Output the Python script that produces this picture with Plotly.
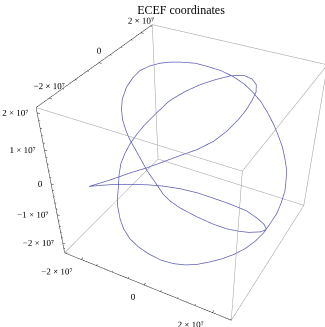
import plotly.graph_objects as go

# ECEF trajectory samples (metres)
x_m = [-1.90e7,-1.15e7,-6.7e6,-1.8e6,2.5e6,6.1e6,9.8e6,1.32e7,1.63e7,1.94e7,2.23e7,2.39e7,2.43e7,2.40e7,2.28e7,2.26e7,2.13e7,1.93e7,1.69e7,1.39e7,
       1.04e7,8.1e6,6.4e6,4.3e6,1.9e6,-2e5,-2.4e6,-4.4e6,-6.3e6,-8.3e6,-1.00e7,-1.14e7,-1.30e7,-1.41e7,-1.46e7,-1.37e7,-1.22e7,-1.03e7,-8.1e6,-4.4e6,
       -9e5,3.0e6,6.9e6,1.08e7,1.44e7,1.67e7,1.89e7,2.08e7,2.24e7,2.38e7,2.48e7,2.50e7,2.50e7,2.50e7,2.50e7,2.51e7,2.44e7,2.36e7,2.24e7,2.07e7,
       1.85e7,1.59e7,1.35e7,1.08e7,8.2e6,5.4e6,2.2e6,-1.2e6,-2.7e6,-3.8e6,-4.8e6,-5.6e6,-5.9e6,-5.6e6,-5.1e6,-5.2e6,-5.2e6,-4.7e6,-4.0e6,-3.0e6,
       -1.9e6,-8e5,-9e5,2e5,1.8e6,3.9e6,6.3e6,9.1e6,1.03e7,1.28e7,1.45e7,1.54e7,1.58e7,1.56e7,1.48e7,1.33e7,1.10e7,8.1e6,5.0e6,1.7e6,
       -2.2e6,-7.8e6,-1.39e7]
y_m = [-1.84e7,-2.31e7,-2.43e7,-2.46e7,-2.41e7,-2.33e7,-2.21e7,-2.06e7,-1.89e7,-1.65e7,-1.32e7,-1.00e7,-5.9e6,-2.5e6,-3.4e6,-1.11e7,-1.43e7,-1.73e7,-1.98e7,-2.18e7,
       -2.33e7,-2.38e7,-2.39e7,-2.35e7,-2.29e7,-2.19e7,-2.08e7,-1.96e7,-1.81e7,-1.62e7,-1.39e7,-1.13e7,-6.9e6,-2.5e6,1.5e6,4.9e6,7.4e6,9.1e6,1.03e7,1.16e7,
       1.15e7,1.11e7,9.8e6,7.7e6,4.9e6,4.6e6,3.9e6,3.4e6,3.0e6,2.8e6,2.7e6,4.6e6,5.3e6,5.6e6,4.0e6,9e5,-1.2e6,-3.4e6,-5.4e6,-7.6e6,
       -9.8e6,-1.20e7,-1.38e7,-1.57e7,-1.72e7,-1.85e7,-1.95e7,-2.01e7,-2.21e7,-2.38e7,-2.46e7,-2.46e7,-2.46e7,-2.46e7,-2.45e7,-2.37e7,-2.27e7,-2.15e7,-2.03e7,-1.87e7,
       -1.70e7,-1.35e7,-7.5e6,-2.1e6,2.5e6,6.4e6,9.9e6,1.15e7,1.37e7,1.05e7,6.5e6,2.2e6,-2.1e6,-5.9e6,-9.9e6,-1.33e7,-1.64e7,-1.89e7,-2.10e7,-2.26e7,
       -2.36e7,-2.38e7,-2.19e7]
z_m = [-2.7e6,3.5e6,6.3e6,8.3e6,9.4e6,9.8e6,9.6e6,8.7e6,7.2e6,5.0e6,1.7e6,-2.3e6,-7.1e6,-1.16e7,-1.23e7,-6.5e6,-4.2e6,-1.9e6,5e5,2.9e6,
       5.2e6,6.7e6,8.1e6,1.02e7,1.22e7,1.39e7,1.55e7,1.65e7,1.75e7,1.86e7,1.95e7,2.05e7,2.11e7,2.11e7,2.11e7,2.11e7,2.11e7,2.11e7,2.11e7,2.11e7,
       2.11e7,2.11e7,2.11e7,2.11e7,2.11e7,1.94e7,1.74e7,1.52e7,1.28e7,1.02e7,7.3e6,2.9e6,-7e5,-4.3e6,-6.8e6,-8.4e6,-1.04e7,-1.24e7,-1.40e7,-1.56e7,
       -1.69e7,-1.79e7,-1.85e7,-1.90e7,-1.91e7,-1.88e7,-1.81e7,-1.68e7,-1.34e7,-9.8e6,-6.4e6,-3.3e6,3e5,3.5e6,6.9e6,9.4e6,1.16e7,1.38e7,1.58e7,1.78e7,
       1.96e7,2.11e7,2.11e7,2.11e7,2.11e7,2.11e7,2.11e7,2.11e7,1.95e7,2.01e7,2.06e7,2.08e7,2.05e7,1.99e7,1.90e7,1.79e7,1.69e7,1.59e7,1.45e7,1.28e7,
       1.07e7,6.9e6,2.1e6]

# plot range of each axis (metres)
x_range = [-2.556e7, 2.520e7]
y_range = [-2.473e7, 2.600e7]
z_range = [-2.370e7, 2.133e7]

xy_major = [-2e7, 0, 2e7]
xy_labels = ["\u22122 \u00d7 10\u2077", "0", "2 \u00d7 10\u2077"]
xy_minor = [-2.5e7, -1.5e7, -1e7, -5e6, 5e6, 1e7, 1.5e7, 2.5e7]
z_major = [-2e7, -1e7, 0, 1e7, 2e7]
z_labels = ["\u22122 \u00d7 10\u2077", "\u22121 \u00d7 10\u2077", "0", "1 \u00d7 10\u2077", "2 \u00d7 10\u2077"]
z_minor = [-2.2e7, -1.8e7, -1.6e7, -1.4e7, -1.2e7, -8e6, -6e6, -4e6, -2e6, 2e6, 4e6, 6e6, 8e6, 1.2e7, 1.4e7, 1.6e7, 1.8e7]

CURVE = "#5E5EB4"
EDGE = "#999999"
AXIS = "#222222"
FONT = "Liberation Serif"

# canvas size; the 3-D viewport covers it entirely (narrow field of view)
FIG_W, FIG_H = 379, 499

x0, x1 = x_range; y0, y1 = y_range; z0, z1 = z_range
L = max(x1 - x0, y1 - y0, z1 - z0)

def corner(i, j, k):
    return ([x0, x1][i], [y0, y1][j], [z0, z1][k])

def segs(pairs):
    xs, ys, zs = [], [], []
    for a, b in pairs:
        xs += [a[0], b[0], None]; ys += [a[1], b[1], None]; zs += [a[2], b[2], None]
    return xs, ys, zs

# the twelve box edges
edges = []
for j in (0, 1):
    for k in (0, 1):
        edges.append((corner(0, j, k), corner(1, j, k)))
for i in (0, 1):
    for k in (0, 1):
        edges.append((corner(i, 0, k), corner(i, 1, k)))
for i in (0, 1):
    for j in (0, 1):
        edges.append((corner(i, j, 0), corner(i, j, 1)))

# axis edges: x along (y0, z0), y along (x0, z1), z along (x0, y0)
axis_edges = [(corner(0, 0, 0), corner(1, 0, 0)), (corner(0, 0, 1), corner(0, 1, 1)), (corner(0, 0, 0), corner(0, 0, 1))]

big, small = 0.016 * L, 0.009 * L
tick_pairs = []
for v in xy_major + xy_minor:
    t = big if v in xy_major else small
    if x0 <= v <= x1:
        tick_pairs.append(((v, y0, z0), (v, y0 + t, z0)))
    if y0 <= v <= y1:
        tick_pairs.append(((x0, v, z1), (x0 + t, v, z1)))
for v in z_major + z_minor:
    t = big if v in z_major else small
    tick_pairs.append(((x0, y0, v), (x0 + t, y0, v)))

fig = go.Figure()
ex, ey, ez = segs(edges)
fig.add_trace(go.Scatter3d(x=ex, y=ey, z=ez, mode="lines", line=dict(color=EDGE, width=1), hoverinfo="skip"))
ax_, ay_, az_ = segs(axis_edges + tick_pairs)
fig.add_trace(go.Scatter3d(x=ax_, y=ay_, z=az_, mode="lines", line=dict(color=AXIS, width=1), hoverinfo="skip"))

fig.add_trace(go.Scatter3d(x=x_m + x_m[:1], y=y_m + y_m[:1], z=z_m + z_m[:1], mode="lines",
                           line=dict(color=CURVE, width=1.5), hoverinfo="skip"))

tf = dict(family=FONT, size=9, color="black")
fig.add_trace(go.Scatter3d(x=xy_major, y=[y0] * 3, z=[z0] * 3, mode="text", text=xy_labels,
                           textposition="bottom left", textfont=tf, hoverinfo="skip"))
fig.add_trace(go.Scatter3d(x=[x0] * 3, y=xy_major, z=[z1] * 3, mode="text", text=xy_labels,
                           textposition="top center", textfont=tf, hoverinfo="skip"))
fig.add_trace(go.Scatter3d(x=[x0] * 5, y=[y0] * 5, z=z_major, mode="text", text=z_labels,
                           textposition="middle left", textfont=tf, hoverinfo="skip"))

pad = 1e-3 * L
hidden = dict(visible=False, showspikes=False)
rx, ry, rz = [x0 - pad, x1 + pad], [y0 - pad, y1 + pad], [z0 - pad, z1 + pad]
fig.update_layout(
    width=FIG_W, height=FIG_H, margin=dict(l=0, r=0, t=0, b=0),
    paper_bgcolor="white", showlegend=False, hovermode=False,
    title=dict(text="ECEF coordinates", x=181 / FIG_W, xanchor="center", y=1 - 6 / FIG_H, yanchor="top",
               font=dict(family=FONT, size=12, color="black")),
    scene=dict(
        domain=dict(x=[0, 1], y=[0, 1]),
        xaxis=dict(range=rx, **hidden), yaxis=dict(range=ry, **hidden), zaxis=dict(range=rz, **hidden),
        aspectmode="manual",
        aspectratio=dict(x=(rx[1] - rx[0]) / L, y=(ry[1] - ry[0]) / L, z=(rz[1] - rz[0]) / L),
        camera=dict(eye=dict(x=1.2167, y=-2.2593, z=1.8156),
                    center=dict(x=0.145, y=-0.2684, z=-0.3226),
                    up=dict(x=0, y=0, z=1)),
        dragmode=False,
    ),
)
fig.write_html("out.html", config={"displayModeBar": False},
               post_script="document.documentElement.style.overflow='hidden';document.body.style.overflow='hidden';")
